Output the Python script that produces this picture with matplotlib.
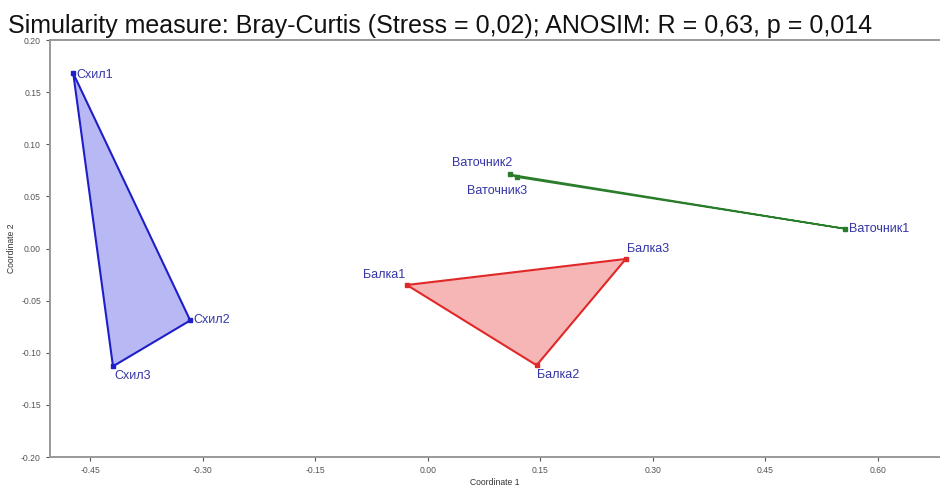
import matplotlib.pyplot as plt
from matplotlib.patches import Polygon

plt.rcParams['font.family'] = ['Liberation Sans', 'DejaVu Sans']

# NMDS coordinates
groups = ["Схил", "Балка", "Ваточник"]
names = {
    "Схил": ["Схил1", "Схил2", "Схил3"],
    "Балка": ["Балка1", "Балка2", "Балка3"],
    "Ваточник": ["Ваточник1", "Ваточник2", "Ваточник3"],
}
coord1 = {
    "Схил": [-0.473, -0.317, -0.420],
    "Балка": [-0.028, 0.145, 0.264],
    "Ваточник": [0.556, 0.109, 0.119],
}
coord2 = {
    "Схил": [0.168, -0.069, -0.113],
    "Балка": [-0.035, -0.112, -0.010],
    "Ваточник": [0.019, 0.071, 0.0685],
}

edge = {"Схил": "#1f1fc8", "Балка": "#e02828", "Ваточник": "#2a7d2a"}
fill = {"Схил": "#b8b8f4", "Балка": "#f6b6b6", "Ваточник": "#9ccc9c"}
lw = {"Схил": 1.5, "Балка": 1.5, "Ваточник": 1.2}

# label offsets in points, with alignment
offsets = {
    "Схил1": (2, -1, "left", "center"),
    "Схил2": (2, 0, "left", "center"),
    "Схил3": (1, -3, "left", "top"),
    "Балка1": (-1, 3, "right", "bottom"),
    "Балка2": (0, -3, "left", "top"),
    "Балка3": (1, 3, "left", "bottom"),
    "Ваточник2": (2, 4, "right", "bottom"),
    "Ваточник3": (7, -6, "right", "top"),
    "Ваточник1": (3, 0, "left", "center"),
}

fig = plt.figure(figsize=(9.4, 4.88), dpi=100)
ax = fig.add_axes([0.0532, 0.0635, 0.9468, 0.8545])

for g in groups:
    xs, ys = coord1[g], coord2[g]
    ax.add_patch(Polygon(list(zip(xs, ys)), closed=True, facecolor=fill[g],
                         edgecolor=edge[g], linewidth=lw[g], zorder=2))
    ax.plot(xs, ys, "s", color=edge[g], markersize=2.5, zorder=3)
    for n, x, y in zip(names[g], xs, ys):
        dx, dy, ha, va = offsets[n]
        ax.annotate(n, (x, y), xytext=(dx, dy), textcoords="offset points",
                    ha=ha, va=va, fontsize=9, color="#3434a8", zorder=4)

ax.set_xlim(-0.504, 0.683)
ax.set_ylim(-0.2, 0.2)
ax.set_xticks([-0.45, -0.30, -0.15, 0.00, 0.15, 0.30, 0.45, 0.60])
ax.set_yticks([-0.20, -0.15, -0.10, -0.05, 0.00, 0.05, 0.10, 0.15, 0.20])
ax.xaxis.set_major_formatter(plt.FormatStrFormatter("%.2f"))
ax.yaxis.set_major_formatter(plt.FormatStrFormatter("%.2f"))
ax.tick_params(labelsize=6.2, colors="#555555", length=3, width=0.8)
ax.set_xlabel("Coordinate 1", fontsize=6.2, color="#333333", labelpad=2)
ax.set_ylabel("Coordinate 2", fontsize=6.2, color="#333333", labelpad=4)

for s in ["left", "bottom", "top"]:
    ax.spines[s].set_color("#999999")
    ax.spines[s].set_linewidth(1.4)
ax.spines["right"].set_visible(False)

fig.text(0.009, 0.972, "Simularity measure: Bray-Curtis (Stress = 0,02); ANOSIM: R = 0,63, p = 0,014",
         fontsize=18, ha="left", va="top", color="#111111")

fig.savefig("out.png", dpi=100)
